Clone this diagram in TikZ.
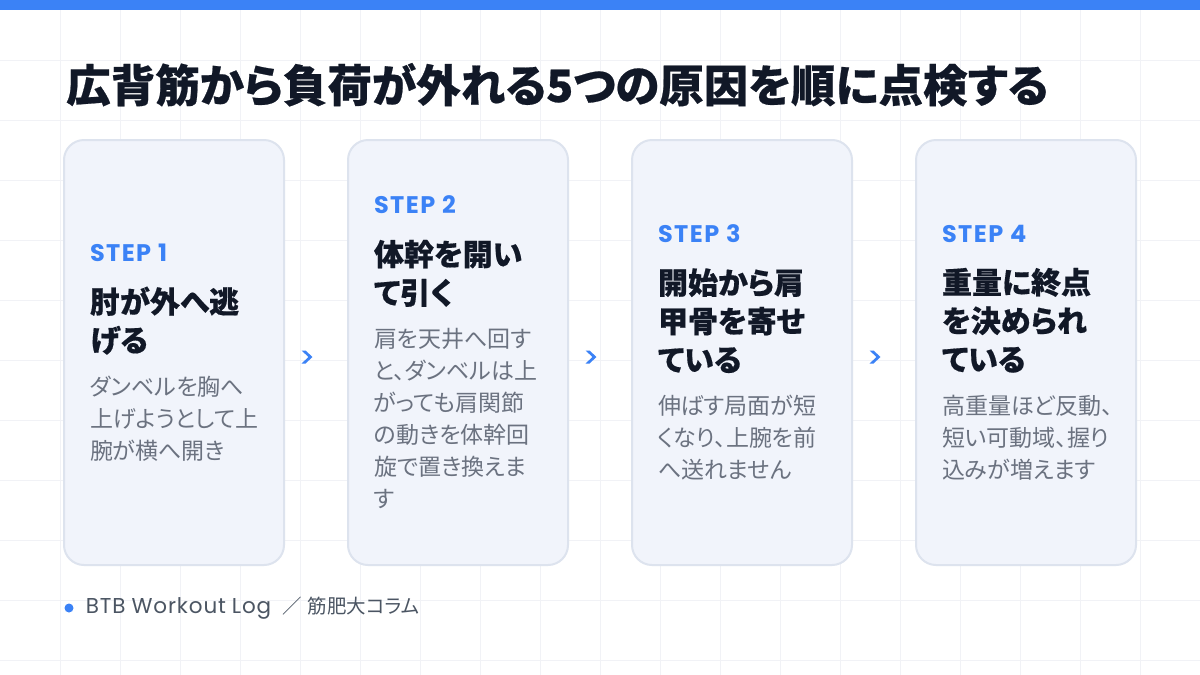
\documentclass[tikz,border=0pt]{standalone}
\usepackage{fontspec}
\setmainfont{Noto Sans CJK JP}[RawFeature=+palt]
\newfontfamily\blackfont{Noto Sans CJK JP Black}[RawFeature=+palt, FakeBold=0.5]
\newfontfamily\latinfont{Poppins}
\usetikzlibrary{calc,positioning}

\definecolor{accent}{HTML}{3B82F6}
\definecolor{ink}{HTML}{111827}
\definecolor{muted}{HTML}{6B7280}
\definecolor{footcol}{HTML}{4B5563}
\definecolor{cardfill}{HTML}{F1F4FB}
\definecolor{cardline}{HTML}{DDE3EE}
\definecolor{gridcol}{HTML}{F1F2F6}

\newcommand\steplbl[1]{{\latinfont\bfseries\addfontfeatures{LetterSpace=6}\fontsize{24}{26}\selectfont\color{accent}STEP\hspace{7pt}#1\par}}
\newcommand\headtxt[1]{{\blackfont\fontsize{30}{38.5}\selectfont\color{ink}#1\par}}
\newcommand\bodytxt[1]{{\fontsize{23}{32}\selectfont\color{muted}#1\par}}

\tikzset{
  gridline/.style={draw=gridcol, line width=1},
  card/.style={draw=cardline, fill=cardfill, line width=2, rounded corners=20,
    minimum width=220, minimum height=425, inner sep=0, outer sep=0},
  cardtext/.style={inner sep=0, text width=168pt, align=left},
  titletxt/.style={inner sep=0, text=ink, font=\blackfont\fontsize{44.5}{50}\selectfont},
  dotmark/.style={circle, fill=accent, minimum size=9, inner sep=0},
  foottxt/.style={inner sep=0, text=footcol, font=\fontsize{19.5}{22}\selectfont},
  chevron/.pic={\fill[accent] (-5.5,-6.5) -- (-1.5,-6.5) -- (5.5,0) -- (-1.5,6.5) -- (-5.5,6.5) -- (1.5,0) -- cycle;}
}

\begin{document}
\begin{tikzpicture}[x=1pt,y=-1pt]
\useasboundingbox (0,0) rectangle (1200,675);
\fill[white] (0,0) rectangle (1200,675);
% faint grid
\foreach \x in {60,120,...,1140} \draw[gridline] (\x,0) -- (\x,675);
\foreach \y in {60,120,...,660} \draw[gridline] (0,\y) -- (1200,\y);
\fill[accent] (0,0) rectangle (1200,10);

\node[titletxt, anchor=base west] (title) at (66,102) {広背筋から負荷が外れる5つの原因を順に点検する};

% cards
\node[card] (c1) at (174,352.5) {};
\node[card, right=64pt of c1] (c2) {};
\node[card, right=64pt of c2] (c3) {};
\node[card, right=64pt of c3] (c4) {};

\node[cardtext] (t1) at (c1.center) {\steplbl{1}\vspace{13pt}\headtxt{肘が外へ逃\\げる}\vspace{11.7pt}\bodytxt{ダンベルを胸へ\\上げようとして上\\腕が横へ開き}};
\node[cardtext] (t2) at (c2.center) {\steplbl{2}\vspace{13pt}\headtxt{体幹を開い\\て引く}\vspace{11.7pt}\bodytxt{肩を天井へ回す\\と、ダンベルは上\\がっても肩関節\\の動きを体幹回\\旋で置き換えま\\す}};
\node[cardtext] (t3) at (c3.center) {\steplbl{3}\vspace{13pt}\headtxt{開始から肩\\甲骨を寄せ\\ている}\vspace{11.7pt}\bodytxt{伸ばす局面が短\\くなり、上腕を前\\へ送れません}};
\node[cardtext] (t4) at (c4.center) {\steplbl{4}\vspace{13pt}\headtxt{重量に終点\\を決められ\\ている}\vspace{11.7pt}\bodytxt{高重量ほど反動、\\短い可動域、握り\\込みが増えます}};

% chevrons between cards
\pic at ($(c1.east)!0.5!(c2.west)+(-9,4.5)$) {chevron};
\pic at ($(c2.east)!0.5!(c3.west)+(-9,4.5)$) {chevron};
\pic at ($(c3.east)!0.5!(c4.west)+(-9,4.5)$) {chevron};

% footer
\node[dotmark] (dot) at (69,608) {};
\node[foottxt, right=12pt of dot] (foot) {{\latinfont\addfontfeatures{LetterSpace=4}\fontsize{21.5}{22}\selectfont BTB\hspace{6pt}Workout\hspace{6pt}Log}\hspace{11pt}／\hspace{6pt}筋肥大コラム};
\end{tikzpicture}
\end{document}
